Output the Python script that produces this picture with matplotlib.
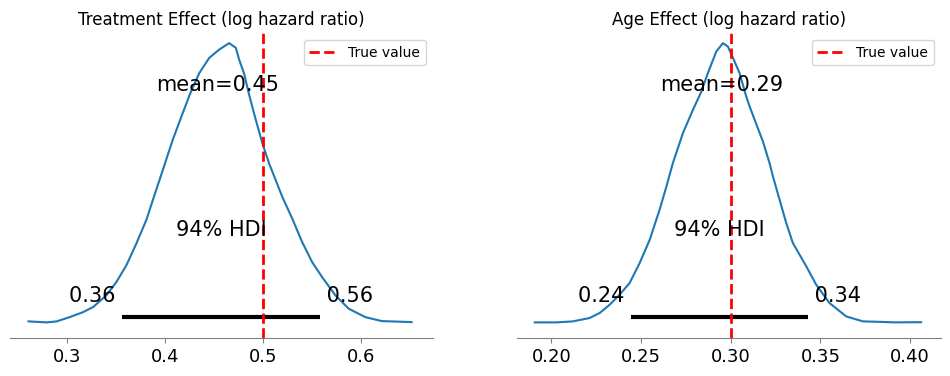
import matplotlib.pyplot as plt

# posterior density traces
treat_x = [0.2604, 0.2791, 0.2892, 0.3027, 0.3163, 0.3264, 0.3400, 0.3502, 0.3604, 0.3706,
           0.3807, 0.3891, 0.3976, 0.4077, 0.4179, 0.4264, 0.4349, 0.4450, 0.4552, 0.4653,
           0.4722, 0.4755, 0.4806, 0.4857, 0.4925, 0.4992, 0.5060, 0.5128, 0.5195, 0.5297,
           0.5398, 0.5500, 0.5602, 0.5738, 0.5873, 0.6043, 0.6211, 0.6516]
treat_y = [0.027, 0.0, 0.027, 0.143, 0.277, 0.412, 0.726, 1.084, 1.533, 2.117,
           2.744, 3.417, 4.089, 4.896, 5.614, 6.197, 6.691, 7.095, 7.318, 7.490,
           7.363, 7.049, 6.672, 6.107, 5.434, 4.808, 4.270, 3.820, 3.371, 2.787,
           2.158, 1.620, 1.216, 0.726, 0.368, 0.142, 0.035, 0.008]

age_x = [0.1907, 0.2028, 0.2120, 0.2213, 0.2269, 0.2325, 0.2380, 0.2436, 0.2492, 0.2548,
         0.2603, 0.2641, 0.2677, 0.2733, 0.2789, 0.2836, 0.2872, 0.2919, 0.2956, 0.2984,
         0.3021, 0.3049, 0.3086, 0.3105, 0.3133, 0.3179, 0.3216, 0.3235, 0.3272, 0.3309,
         0.3346, 0.3421, 0.3476, 0.3550, 0.3643, 0.3736, 0.3829, 0.3913, 0.4061]
age_y = [0.0, 0.0, 0.054, 0.237, 0.505, 0.952, 1.489, 2.118, 3.194, 4.446,
         6.059, 7.312, 8.570, 10.183, 11.435, 12.419, 13.409, 14.570, 15.022, 14.839,
         14.032, 13.409, 12.151, 11.613, 10.898, 9.731, 8.570, 7.849, 6.597, 5.344,
         4.269, 3.011, 2.027, 1.043, 0.323, 0.054, 0.03, 0.0, 0.01]

titles = ["Treatment Effect (log hazard ratio)", "Age Effect (log hazard ratio)"]
means = [0.454, 0.2947]
hdis = [(0.3559, 0.5584), (0.2446, 0.3430)]
true_vals = [0.5, 0.3]
xlims = [(0.2415, 0.6732), (0.1807, 0.4169)]
xticks = [[0.3, 0.4, 0.5, 0.6], [0.20, 0.25, 0.30, 0.35, 0.40]]
ticklabels = [["0.3", "0.4", "0.5", "0.6"], ["0.20", "0.25", "0.30", "0.35", "0.40"]]

fig = plt.figure(figsize=(9.5, 3.76), dpi=100)
ax1 = fig.add_axes([0.0105, 0.101, 0.445, 0.811])
ax2 = fig.add_axes([0.544, 0.101, 0.446, 0.811])

for i, (ax, xs, ys) in enumerate([(ax1, treat_x, treat_y), (ax2, age_x, age_y)]):
    top = max(ys) * 1.036
    ax.plot(xs, ys, color="C0", lw=1.5)
    lo, hi = hdis[i]
    ax.plot([lo, hi], [top * 0.02, top * 0.02], color="k", lw=3, solid_capstyle="butt")
    ax.text(lo, top * 0.07, "%.2f " % lo, size=15, ha="right")
    ax.text(hi, top * 0.07, " %.2f" % hi, size=15, ha="left")
    ax.text((lo + hi) / 2, top * 0.3, "94% HDI", size=15, ha="center")
    ax.text(means[i], top * 0.8, "mean=%.2f" % means[i], size=15, ha="center")
    ax.axvline(true_vals[i], color="red", ls="--", lw=2, label="True value")
    ax.set_xlim(*xlims[i])
    ax.set_ylim(-max(ys) * 0.056, top)
    ax.set_xticks(xticks[i])
    ax.set_xticklabels(ticklabels[i])
    ax.tick_params(axis="x", labelsize=13, color="gray")
    ax.set_yticks([])
    for s in ["left", "top", "right"]:
        ax.spines[s].set_visible(False)
    ax.spines["bottom"].set_color("gray")
    ax.set_title(titles[i], fontsize=12)
    ax.legend(loc="upper right")

fig.savefig("out.png", dpi=100)
